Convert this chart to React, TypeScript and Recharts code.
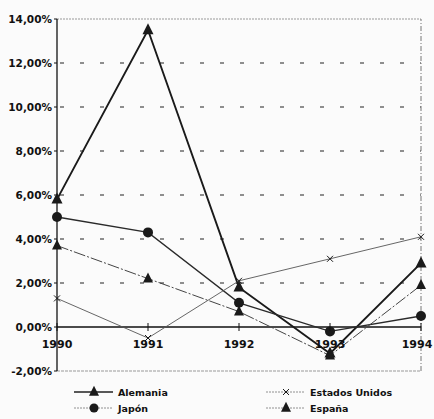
import React from "react";
import {
  LineChart,
  Line,
  XAxis,
  YAxis,
  ReferenceLine,
  Legend,
} from "recharts";

const years = ["1990", "1991", "1992", "1993", "1994"];
const alemania = [5.8, 13.5, 1.8, -1.2, 2.9];
const japon = [5.0, 4.3, 1.1, -0.2, 0.5];
const estadosUnidos = [1.3, -0.5, 2.1, 3.1, 4.1];
const espana = [3.7, 2.2, 0.7, -1.3, 1.9];
const yTicks = [-2, 0, 2, 4, 6, 8, 10, 12, 14];
const gridValues = [2, 4, 6, 8, 10, 12];

const data = years.map((year, i) => ({
  year,
  alemania: alemania[i],
  japon: japon[i],
  estadosUnidos: estadosUnidos[i],
  espana: espana[i],
}));

const W = 434;
const H = 419;
const TOP = 19;
const PLOT_H = 352;
const ZERO_Y = TOP + (PLOT_H * 14) / 16;
const FONT = "'DejaVu Sans', sans-serif";

const triangle = (cx: number, cy: number, s: number, fill: string) => (
  <path
    d={`M${cx},${cy - s * 0.62} L${cx + s / 2},${cy + s * 0.38} L${cx - s / 2},${cy + s * 0.38} Z`}
    fill={fill}
  />
);

const cross = (cx: number, cy: number, s: number, stroke: string) => (
  <path
    d={`M${cx - s},${cy - s} L${cx + s},${cy + s} M${cx - s},${cy + s} L${cx + s},${cy - s}`}
    stroke={stroke}
    strokeWidth={1}
  />
);

const series = [
  { key: "alemania", name: "Alemania", stroke: "#1a1a1a", width: 1.9, dash: undefined as string | undefined, marker: "triangle", size: 11 },
  { key: "japon", name: "Japón", stroke: "#2a2a2a", width: 1.3, dash: undefined, marker: "circle", size: 5 },
  { key: "estadosUnidos", name: "Estados Unidos", stroke: "#555", width: 0.9, dash: undefined, marker: "cross", size: 3 },
  { key: "espana", name: "España", stroke: "#444", width: 1, dash: "12 2 2 2", marker: "triangle", size: 10 },
];

const drawMarker = (marker: string, cx: number, cy: number, size: number, color: string) => {
  if (marker === "triangle") return triangle(cx, cy, size, color);
  if (marker === "circle") return <circle cx={cx} cy={cy} r={size} fill={color} />;
  return cross(cx, cy, size, color);
};

// x axis drawn along the 0% line, labels just under it
const XTick = (props: any) => {
  const { x, payload, index } = props;
  const shift = index === years.length - 1 ? -4 : 0;
  return (
    <g>
      <line x1={x} x2={x} y1={ZERO_Y - 4} y2={ZERO_Y + 4} stroke="#111" strokeWidth={1} />
      <text x={x + shift} y={ZERO_Y + 21} textAnchor="middle" fontSize={11} fontWeight="bold" fontFamily={FONT} fill="#111">
        {payload.value}
      </text>
    </g>
  );
};

const legendPos = [
  { x: 74, y: 12 },
  { x: 74, y: 28 },
  { x: 266, y: 12 },
  { x: 266, y: 28 },
];

const renderLegend = () => (
  <svg width={W} height={40}>
    {series.map((s, i) => {
      const p = legendPos[i];
      const dashed = s.key !== "alemania";
      return (
        <g key={s.key}>
          <line
            x1={p.x}
            x2={p.x + 39}
            y1={p.y}
            y2={p.y}
            stroke={dashed ? "#777" : "#222"}
            strokeWidth={dashed ? 0.8 : 1.3}
            strokeDasharray={dashed ? "2 1" : undefined}
          />
          {drawMarker(s.marker, p.x + 20, p.y, s.marker === "cross" ? 3 : s.marker === "circle" ? 4.5 : 10, "#1a1a1a")}
          <text x={p.x + 44} y={p.y + 4} fontSize={9.5} fontWeight="bold" fontFamily={FONT} fill="#111">
            {s.name}
          </text>
        </g>
      );
    })}
  </svg>
);

export default function App() {
  return (
    <div style={{ position: "absolute", left: 0, top: 0, background: "#fbfbfb" }}>
      <LineChart width={W} height={H} data={data} margin={{ top: TOP, right: 13, bottom: 18, left: 0 }}>
        {gridValues.map((v) => (
          <ReferenceLine key={v} y={v} stroke="#222" strokeWidth={1.2} strokeDasharray="4 16" strokeDashoffset={-3} />
        ))}
        <ReferenceLine y={14} stroke="#999" strokeWidth={1} strokeDasharray="2 1" />
        <ReferenceLine y={-2} stroke="#999" strokeWidth={1} strokeDasharray="3 1" />
        <ReferenceLine x="1994" stroke="#777" strokeWidth={1} strokeDasharray="5 2 1 2" />
        <ReferenceLine y={0} stroke="#111" strokeWidth={1.3} />
        <XAxis dataKey="year" axisLine={false} tickLine={false} tick={<XTick />} height={30} interval={0} />
        <YAxis
          width={57}
          domain={[-2, 14]}
          ticks={yTicks}
          interval={0}
          tickFormatter={(v: number) => `${v.toFixed(2).replace(".", ",")}%`}
          axisLine={{ stroke: "#111", strokeWidth: 1.3 }}
          tickLine={{ stroke: "#111" }}
          tickSize={3}
          tick={{ fontSize: 10.5, fontWeight: "bold", fontFamily: FONT, fill: "#111" }}
        />
        {series.map((s) => (
          <Line
            key={s.key}
            type="linear"
            dataKey={s.key}
            name={s.name}
            stroke={s.stroke}
            strokeWidth={s.width}
            strokeDasharray={s.dash}
            isAnimationActive={false}
            dot={(p: any) => (
              <g key={`${s.key}-${p.index}`}>{drawMarker(s.marker, p.cx, p.cy, s.size, "#1a1a1a")}</g>
            )}
            activeDot={false}
          />
        ))}
        <Legend
          verticalAlign="middle"
          align="center"
          layout="horizontal"
          content={renderLegend}
          wrapperStyle={{ top: 380, left: 0, width: W, height: 40 }}
        />
      </LineChart>
    </div>
  );
}
